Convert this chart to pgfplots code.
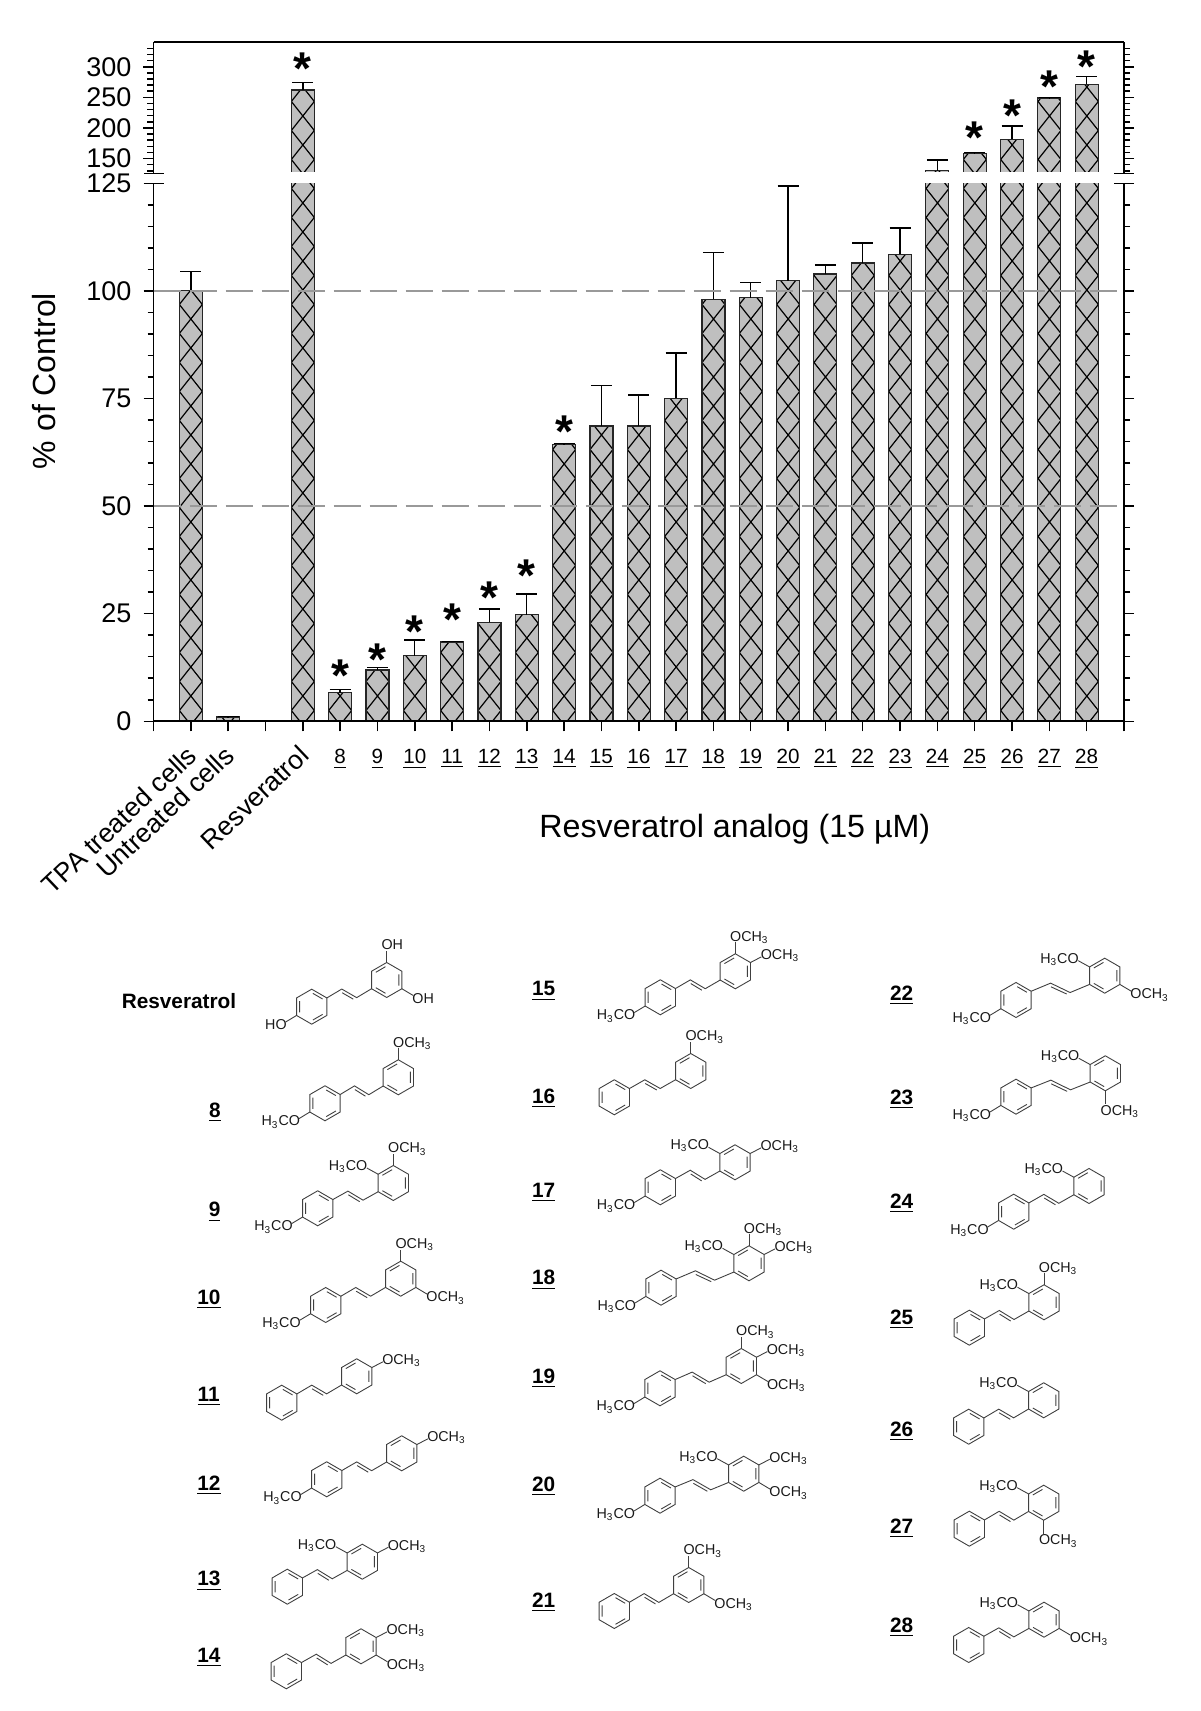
\documentclass[border=0pt]{standalone}
\usepackage{fontspec}
\setmainfont{Liberation Sans}
\usepackage{pgfplots}
\usepackage{pgfplotstable}
\pgfplotsset{compat=1.18}
\usetikzlibrary{patterns}
\definecolor{barfill}{gray}{0.75}
\definecolor{refgray}{gray}{0.6}
\makeatletter
\newcommand\hc{2.083}
\pgfdeclarepatternformonly{diamonds}
 {\pgfpoint{\hc pt-9.3333pt}{-1pt}}{\pgfpoint{\hc pt+9.3333pt}{15.5pt}}
 {\pgfpoint{18.6667pt}{14.5pt}}
 {\pgfsetlinewidth{0.6pt}
  \pgfpathmoveto{\pgfpoint{\hc pt}{0pt}}
  \pgfpathlineto{\pgfpoint{\hc pt+5.75pt}{7.25pt}}
  \pgfpathlineto{\pgfpoint{\hc pt}{14.5pt}}
  \pgfpathlineto{\pgfpoint{\hc pt-5.75pt}{7.25pt}}
  \pgfpathclose\pgfusepath{stroke}}
\makeatother
\pgfplotstableread{
x y e
1 100 4.5
2 1.0 0.1
5 6.65 0.75
6 11.9 0.55
7 15.2 3.7
8 18.4 0.2
9 23 3.1
10 24.8 4.8
11 64.3 0.3
12 68.6 9.4
13 68.6 7.2
14 75 10.6
15 98 10.9
16 98.4 3.5
17 102.4 22
18 103.9 2.1
19 106.5 4.6
20 108.5 6.1
}\bars
\pgfplotstableread{
x y e
4 262 12.6
21 130.4 17.5
22 158.8 0.7
23 181.6 21.7
24 249 0.5
25 271.3 12.4
}\tall
\pgfplotsset{
 barbase/.style={ybar,bar width=11.5pt,bar shift=0pt,draw=black!85,line width=0.6pt,fill=barfill,
  postaction={pattern=diamonds,pattern color=black}},
 barplot/.style={barbase,
  error bars/.cd,y dir=plus,y explicit,
  error bar style={line width=0.7pt,black,solid},
  error mark options={rotate=90,mark size=5.25pt,line width=0.7pt,black}},
 common/.style={scale only axis,width=485.25pt,xmin=0,xmax=26,
  tick align=outside,ytick pos=both,yticklabel pos=left,
  axis line style={line width=0.85pt},
  tick style={line width=0.75pt,black},
  major tick length=5pt,minor tick length=3pt,
  /pgf/number format/assume math mode=true,
  yticklabel style={font=\fontsize{13.5}{16}\selectfont,xshift=-2.5pt},
  axis on top},
 stars/.style={only marks,mark=none,nodes near coords={\fontsize{23}{24}\bfseries\selectfont *},
  every node near coord/.append style={anchor=center,inner sep=0pt,yshift=-3pt}}
}
\tikzset{chem/.style={line width=0.45pt,black!75},
 ct/.style={inner sep=0pt,font=\fontsize{7.15}{8}\selectfont,black!90},
 num/.style={inner sep=0pt,anchor=base,font=\fontsize{10.4}{12}\bfseries\selectfont}}
\newcommand\och{OCH\textsubscript{3}}
\newcommand\hco{H\textsubscript{3}CO}
\newcommand\Hex{\draw[chem] (0,-17.5)--(15.15,-8.75)--(15.15,8.75)--(0,17.5)--(-15.15,8.75)--(-15.15,-8.75)--cycle;}
\newcommand\mol[4]{%
 \def\rx{#3}\def\ry{#4}\def\lx{#1}\def\ly{#2}%
 \begin{scope}[shift={(#1,#2)}]\Hex
  \draw[chem] (1.2,-13.3)--(10.9,-7.7) (-12.12,-5.6)--(-12.12,5.6) (1.2,13.3)--(10.9,7.7);
 \end{scope}
 \begin{scope}[shift={(#3,#4)}]\Hex
  \draw[chem] (-10.9,-7.7)--(-1.2,-13.3) (12.12,-5.6)--(12.12,5.6) (-1.2,13.3)--(-10.9,7.7);
 \end{scope}
 \pgfmathsetmacro\ax{#1+15.15}\pgfmathsetmacro\ay{#2-8.75}
 \pgfmathsetmacro\bx{#3-15.15}\pgfmathsetmacro\by{#4+8.75}
 \pgfmathsetmacro\mx{\ax+(\bx-\ax)/3}\pgfmathsetmacro\my{\ay+(\by-\ay)/3-5.83}
 \pgfmathsetmacro\nx{\ax+2*(\bx-\ax)/3}\pgfmathsetmacro\ny{\ay+2*(\by-\ay)/3+5.83}
 \draw[chem] (\ax,\ay)--(\mx,\my)--(\nx,\ny)--(\bx,\by);
 \draw[chem] (\mx+0.4,\my+3.7)--(\nx-3.4,\ny+1.5);
}
\newcommand\sTop[1][\och]{\begin{scope}[shift={(\rx,\ry)}]\draw[chem] (0,-17.5)--(0,-29);\node[ct,anchor=base west] at (-5.5,-30.1) {#1};\end{scope}}
\newcommand\sUR[1][\och]{\begin{scope}[shift={(\rx,\ry)}]\draw[chem] (15.15,-8.75)--(26,-14.4);\node[ct,anchor=base west] at (25.15,-11.65) {#1};\end{scope}}
\newcommand\sDR[1][\och]{\begin{scope}[shift={(\rx,\ry)}]\draw[chem] (15.15,8.75)--(26.5,15.5);\node[ct,anchor=base west] at (25.35,23.15) {#1};\end{scope}}
\newcommand\sUL{\begin{scope}[shift={(\rx,\ry)}]\draw[chem] (-15.15,-8.75)--(-26.5,-15);\node[ct,anchor=base east] at (-25.65,-12.65) {\hco};\end{scope}}
\newcommand\sD{\begin{scope}[shift={(\rx,\ry)}]\draw[chem] (0,17.5)--(0,31);\node[ct,anchor=base west] at (-5,42.3) {\och};\end{scope}}
\newcommand\sP[1][\hco]{\begin{scope}[shift={(\lx,\ly)}]\draw[chem] (-15.15,8.75)--(-26,15.3);\node[ct,anchor=base east] at (-24.65,22.55) {#1};\end{scope}}
\newcommand\numl[3]{\node[num] at (#1,#2+1) {\underline{#3}};}
\begin{document}
\begin{tikzpicture}
\path[use as bounding box] (0,0) rectangle (600pt,855.5pt);
% lower panel
\begin{axis}[common,at={(76.75pt,494.85pt)},anchor=south west,height=269pt,
  ymin=0,ymax=125,ytick={0,25,...,125},minor y tick num=4,
  axis x line*=bottom,axis y line*=box,
  xtick={0,3,5,6,...,26},
  xticklabels={{},{},\underline{8},\underline{9},\underline{10},\underline{11},\underline{12},\underline{13},\underline{14},\underline{15},\underline{16},\underline{17},\underline{18},\underline{19},\underline{20},\underline{21},\underline{22},\underline{23},\underline{24},\underline{25},\underline{26},\underline{27},\underline{28},{}},
  xticklabel style={font=\fontsize{10.3}{12}\selectfont,yshift=-5.6pt},
  extra x ticks={1,2,4},
  extra x tick labels={TPA treated cells,Untreated cells,Resveratrol},
  extra x tick style={xticklabel style={rotate=43.5,anchor=north east,font=\fontsize{13.3}{15}\selectfont,xshift=1pt,yshift=5pt}},
  every axis y label/.style={at={(axis description cs:-0.1132,0.6325)},rotate=90,anchor=center,font=\fontsize{16}{18}\selectfont},
  ylabel={\% of Control},
  every axis x label/.style={at={(axis description cs:0.599,-0.2006)},anchor=center,font=\fontsize{16.1}{18}\selectfont},
  xlabel={Resveratrol analog (15 µM)}]
\addplot[barplot] table[x=x,y=y,y error=e] {\bars};
\addplot[barbase] table[x=x,y=y] {\tall};
\addplot[refgray,line width=0.65pt,dash pattern=on 13.5pt off 4.5pt] coordinates {(0,100) (26,100)};
\addplot[refgray,line width=0.65pt,dash pattern=on 13.5pt off 4.5pt] coordinates {(0,50) (26,50)};
\addplot[stars] coordinates {(5,11.9) (6,15.7) (7,22.3) (8,24.9) (9,30) (10,35.2) (11,68.7)};
\end{axis}
% upper panel
\begin{axis}[common,at={(76.75pt,768.85pt)},anchor=south west,height=65.5pt,
  ymin=126,ymax=340,ytick={150,200,250,300},
  minor ytick={130,140,160,170,180,190,210,220,230,240,260,270,280,290,310,320,330},
  axis x line*=top,axis y line*=box,xtick=\empty]
\addplot[barplot] table[x=x,y=y,y error=e] {\tall};
\addplot[stars] coordinates {(4,306.5) (22,194) (23,229.4) (24,277.2) (25,309.3)};
\end{axis}
\begin{scope}[x=0.5pt,y=-0.5pt,yshift=855.5pt]
\fill[white] (165,171.9) rectangle (1113,183);
\draw[line width=0.75pt] (144,173.3)--(164,173.3) (144,183.3)--(164,183.3) (1114,173.3)--(1134,173.3) (1114,183.3)--(1134,183.3);
\node[num] at (179,1009) {Resveratrol};
\numl{215}{1116.7}{8}\numl{214.7}{1216}{9}\numl{209}{1303.3}{10}\numl{208.7}{1400.7}{11}\numl{209}{1490}{12}\numl{209}{1585}{13}\numl{209}{1661.7}{14}
\numl{543.7}{995}{15}\numl{543.7}{1102.7}{16}\numl{543.7}{1196.7}{17}\numl{543.7}{1284}{18}\numl{543.7}{1382.7}{19}\numl{543.7}{1490.3}{20}\numl{543.7}{1607}{21}
\numl{901.7}{999.3}{22}\numl{901.7}{1103.3}{23}\numl{901.7}{1207.3}{24}\numl{901.7}{1323.3}{25}\numl{901.7}{1435.3}{26}\numl{901.7}{1532.7}{27}\numl{901.7}{1631.7}{28}
\mol{311.7}{1006.7}{386.7}{980}\sTop[OH]\sDR[OH]\sP[HO]
\mol{325}{1103.3}{398.3}{1077.3}\sTop\sP
\mol{317.7}{1208.3}{393.3}{1183}\sTop\sUL\sP
\mol{325.7}{1305}{400.7}{1278.7}\sTop\sDR\sP
\mol{281.7}{1402.7}{356.7}{1376.3}\sUR
\mol{326.7}{1479.3}{401.7}{1453.3}\sUR\sP
\mol{287.3}{1586.7}{362.3}{1561.7}\sUL\sUR
\mol{286.3}{1671.3}{361}{1646.3}\sUR\sDR
\mol{660.3}{997.3}{735.3}{971.3}\sTop\sUR\sP
\mol{614.3}{1097.3}{690.7}{1071}\sTop
\mol{660.3}{1187.3}{735}{1162.3}\sUL\sUR\sP
\mol{661}{1287.7}{749}{1263.3}\sTop\sUL\sUR\sP
\mol{660}{1388.3}{741.3}{1366}\sTop\sUR\sDR\sP
\mol{660}{1495.7}{743.7}{1473.7}\sUL\sUR\sDR\sP
\mol{614.3}{1611}{688.7}{1585}\sTop\sDR
\mol{1016}{1000}{1104.7}{975.7}\sUL\sDR\sP
\mol{1016}{1096.7}{1105.3}{1073.3}\sUL\sD\sP
\mol{1013.7}{1211.7}{1089}{1186}\sUL\sP
\mol{969.3}{1327.7}{1044}{1302.3}\sTop\sUL
\mol{968.7}{1426.7}{1043.7}{1400.3}\sUL
\mol{969.3}{1528.7}{1043.7}{1502.7}\sUL\sD
\mol{968.7}{1645}{1044}{1619.7}\sUL\sDR
\end{scope}
\end{tikzpicture}
\end{document}
